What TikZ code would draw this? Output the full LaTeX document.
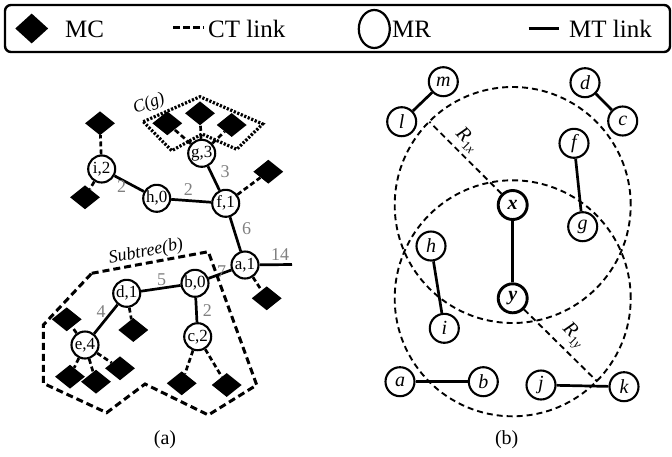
\documentclass[tikz,border=0pt]{standalone}
\usepackage{fontspec}
\setmainfont{Liberation Serif}
\usetikzlibrary{shapes.geometric}

% radius label: italic R with a lowered subscript
\newcommand{\radlabel}[1]{\textit{R}\raisebox{-4pt}{\fontsize{13}{13}\selectfont 1\textit{#1}}}

\begin{document}
\begin{tikzpicture}[x=1pt,y=-1pt,
  mr/.style={circle,draw,line width=2.1pt,minimum size=27pt,inner sep=0pt,
    font=\fontsize{17}{17}\selectfont},
  mrb/.style={circle,draw,line width=2.1pt,minimum size=29pt,inner sep=0pt,
    font=\fontsize{20}{20}\selectfont\itshape},
  mrx/.style={mrb,line width=2.9pt,font=\fontsize{20}{20}\selectfont\bfseries\itshape},
  mc/.style={diamond,fill=black,minimum width=30pt,minimum height=24pt,inner sep=0pt},
  mt/.style={line width=2.7pt},
  ct/.style={line width=2.7pt,dash pattern=on 5pt off 3pt},
  zoneline/.style={line width=3pt,dash pattern=on 7pt off 4pt},
  clusterline/.style={line width=3.2pt,dash pattern=on 2.2pt off 1.6pt},
  txrange/.style={line width=1.9pt,dash pattern=on 6pt off 4pt},
  wt/.style={text=gray,font=\fontsize{18}{18}\selectfont,inner sep=0pt},
  legtext/.style={anchor=base west,inner sep=0pt,font=\fontsize{25}{25}\selectfont},
  lbl/.style={font=\fontsize{20}{20}\selectfont,inner sep=0pt}]
\useasboundingbox (0,0) rectangle (672,456);

% ---------- legend ----------
\draw[line width=2.4pt,rounded corners=6pt] (5,5) rectangle (670,52);
\node[mc,minimum width=33pt,minimum height=30pt] (lgmc) at (31.7,28.5) {};
\node[legtext] (lgmct) at (65,37.5) {MC};
\coordinate (lgct1) at (173,27.5);
\coordinate (lgct2) at (204,27.5);
\draw[line width=2.8pt,dash pattern=on 7pt off 3pt] (lgct1) -- (lgct2);
\node[legtext] (lgctt) at (208,37.5) {CT link};
\node[ellipse,draw,line width=2.2pt,minimum width=31pt,minimum height=38pt,inner sep=0pt] (lgmr) at (374.3,29) {};
\node[legtext] (lgmrt) at (392,37.5) {MR};
\coordinate (lgmt1) at (528.7,28.3);
\coordinate (lgmt2) at (558.7,28.3);
\draw[line width=3.2pt] (lgmt1) -- (lgmt2);
\node[legtext] (lgmtt) at (569,37.5) {MT link};

% ---------- (a) regions ----------
\draw[clusterline] (143.3,121.7) -- (200,96.7) -- (262.7,124) -- (236.7,149.3)
  -- (202,134) -- (171.7,150.7) -- cycle;
\node[lbl,font=\fontsize{17.5}{17.5}\selectfont\itshape,rotate=20] (cglab) at (149,104) {C(g)};
\draw[zoneline] (91.7,273.3) -- (208.3,251.7) -- (256.7,385) -- (208.3,415)
  -- (145,384) -- (106.7,412.7) -- (43.3,383.3) -- (43.3,325) -- cycle;
\node[lbl,font=\fontsize{18}{18}\selectfont\itshape,rotate=11] (stlab) at (146,252) {Subtree(b)};

% ---------- (a) routers ----------
\node[mr] (i) at (101.7,169) {i,2};
\node[mr] (h) at (156.7,198.3) {h,0};
\node[mr] (f) at (225.7,203.3) {f,1};
\node[mr] (g) at (201.7,153.3) {g,3};
\node[mr] (a) at (245,265) {a,1};
\node[mr] (b) at (195,283.3) {b,0};
\node[mr] (d) at (126.7,293.3) {d,1};
\node[mr] (e) at (85,345) {e,4};
\node[mr] (c) at (197.7,336.7) {c,2};
\coordinate (aout) at (292,264.5);

% ---------- (a) clients ----------
\node[mc] (ci1) at (100,123.3) {};
\node[mc] (ci2) at (85,197.3) {};
\node[mc] (cg1) at (167.3,123.3) {};
\node[mc] (cg2) at (200,113.3) {};
\node[mc] (cg3) at (231.7,125) {};
\node[mc] (cf1) at (268.3,171.7) {};
\node[mc] (ca1) at (266.7,298.3) {};
\node[mc] (cd1) at (133.3,330) {};
\node[mc] (ce1) at (66.7,319.3) {};
\node[mc] (ce2) at (70,376.7) {};
\node[mc] (ce3) at (96,381.7) {};
\node[mc] (ce4) at (120,368.3) {};
\node[mc] (cc1) at (181.7,383.3) {};
\node[mc] (cc2) at (226.7,385) {};

% ---------- (a) MT links ----------
\draw[mt] (i) -- (h);
\draw[mt] (h) -- (f);
\draw[mt] (g) -- (f);
\draw[mt] (f) -- (a);
\draw[mt] (a) -- (b);
\draw[mt] (b) -- (d);
\draw[mt] (d) -- (e);
\draw[mt] (b) -- (c);
\draw[mt] (a) -- (aout);

% ---------- (a) CT links ----------
\draw[ct] (i) -- (ci1);
\draw[ct] (i) -- (ci2);
\draw[ct] (g) -- (cg1);
\draw[ct] (g) -- (cg2);
\draw[ct] (g) -- (cg3);
\draw[ct] (f) -- (cf1);
\draw[ct] (a) -- (ca1);
\draw[ct] (d) -- (cd1);
\draw[ct] (e) -- (ce1);
\draw[ct] (e) -- (ce2);
\draw[ct] (e) -- (ce3);
\draw[ct] (e) -- (ce4);
\draw[ct] (c) -- (cc1);
\draw[ct] (c) -- (cc2);

% ---------- (a) link weights ----------
\node[wt] (w1) at (121.7,186.7) {2};
\node[wt] (w2) at (188.3,190) {2};
\node[wt] (w3) at (225,171.7) {3};
\node[wt] (w4) at (246.7,228.3) {6};
\node[wt] (w5) at (280,255) {14};
\node[wt] (w6) at (221.7,271.7) {7};
\node[wt] (w7) at (161.7,280) {5};
\node[wt] (w8) at (101,311.7) {4};
\node[wt] (w9) at (207.3,310.7) {2};

\node[lbl] (capa) at (165,440) {(a)};

% ---------- (b) routers ----------
\node[mrb] (m) at (443.3,81.7) {m};
\node[mrb] (l) at (401.7,121.7) {l};
\node[mrb] (dd) at (585,82.7) {d};
\node[mrb] (cc) at (622.7,121) {c};
\node[mrb] (ff) at (574,143.3) {f};
\node[mrx] (x) at (512.7,205) {x};
\node[mrb] (gg) at (582.7,226.7) {g};
\node[mrb] (hh) at (431,246) {h};
\node[mrx] (y) at (512.7,298.3) {y};
\node[mrb] (ii) at (444.3,328.3) {i};
\node[mrb] (aa) at (400,381.7) {a};
\node[mrb] (bb) at (483.3,381.7) {b};
\node[mrb] (jj) at (541,385) {j};
\node[mrb] (kk) at (624,386.7) {k};

% transmission ranges
\draw[txrange] (x.center) circle[radius=118pt];
\draw[txrange] (y.center) circle[radius=118pt];
\coordinate (rx) at (429.3,121.7);
\coordinate (ry) at (597.3,381.6);
\draw[txrange] (x) -- (rx);
\draw[txrange] (y) -- (ry);
\node[lbl,rotate=-45] (rxlab) at (467,140) {\radlabel{x}};
\node[lbl,rotate=-45] (rylab) at (573,336) {\radlabel{y}};

% MT links
\draw[mt] (m) -- (l);
\draw[mt] (dd) -- (cc);
\draw[mt] (ff) -- (gg);
\draw[line width=3pt] (x) -- (y);
\draw[mt] (hh) -- (ii);
\draw[mt] (aa) -- (bb);
\draw[mt] (jj) -- (kk);

\node[lbl] (capb) at (506.7,440) {(b)};
\end{tikzpicture}
\end{document}
